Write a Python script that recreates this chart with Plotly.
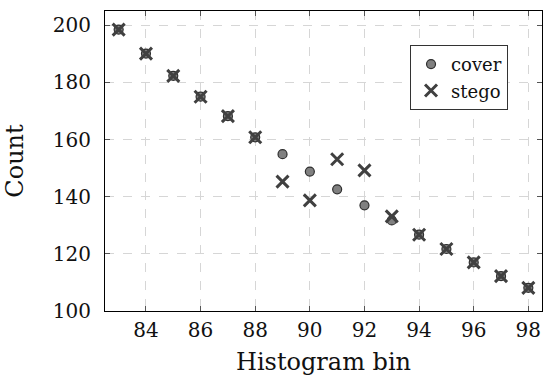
import plotly.graph_objects as go

bins = list(range(83, 99))
cover = [198.5, 190.1, 182.3, 175.0, 168.2, 160.8, 154.9, 148.8, 142.6, 137.0,
         131.7, 126.7, 121.7, 117.0, 112.2, 108.1]
stego = [198.5, 190.1, 182.3, 175.0, 168.2, 160.8, 145.3, 138.7, 153.1, 149.2,
         133.1, 126.7, 121.7, 117.0, 112.2, 108.1]
x_ticks = [84, 86, 88, 90, 92, 94, 96, 98]
y_ticks = [100, 120, 140, 160, 180, 200]

FONT = "DejaVu Serif"

fig = go.Figure()
fig.add_trace(go.Scatter(
    x=bins, y=cover, mode="markers", name="cover",
    marker=dict(symbol="circle", size=9, color="#808080",
                line=dict(color="#2e2e2e", width=1.2)),
))
fig.add_trace(go.Scatter(
    x=bins, y=stego, mode="markers", name="stego",
    marker=dict(symbol="x-thin", size=12,
                line=dict(color="#404040", width=3)),
))

axis_common = dict(
    showline=True, linecolor="#000000", linewidth=1, mirror="allticks",
    ticks="inside", ticklen=5, tickcolor="#555555", tickwidth=1,
    showgrid=True, gridcolor="#d6d6d6", griddash="dash", gridwidth=1,
    zeroline=False, tickfont=dict(family=FONT, size=20, color="#111111"),
)

fig.update_layout(
    width=543, height=381,
    margin=dict(l=105, r=1, t=11, b=70),
    plot_bgcolor="white", paper_bgcolor="white",
    font=dict(family=FONT, size=20, color="#111111"),
    xaxis=dict(range=[82.5, 98.5], tickvals=x_ticks, ticklabelstandoff=1,
               title=dict(text="Histogram bin", standoff=12), **axis_common),
    yaxis=dict(range=[100, 205], tickvals=y_ticks, ticklabelstandoff=9,
               title=dict(text="Count", standoff=22), **axis_common),
    legend=dict(x=0.698, y=0.887, xanchor="left", yanchor="top",
                bgcolor="white", bordercolor="#333333", borderwidth=1,
                font=dict(family=FONT, size=18), itemwidth=30,
                tracegroupgap=0),
    showlegend=True,
)

fig.write_html("out.html")
